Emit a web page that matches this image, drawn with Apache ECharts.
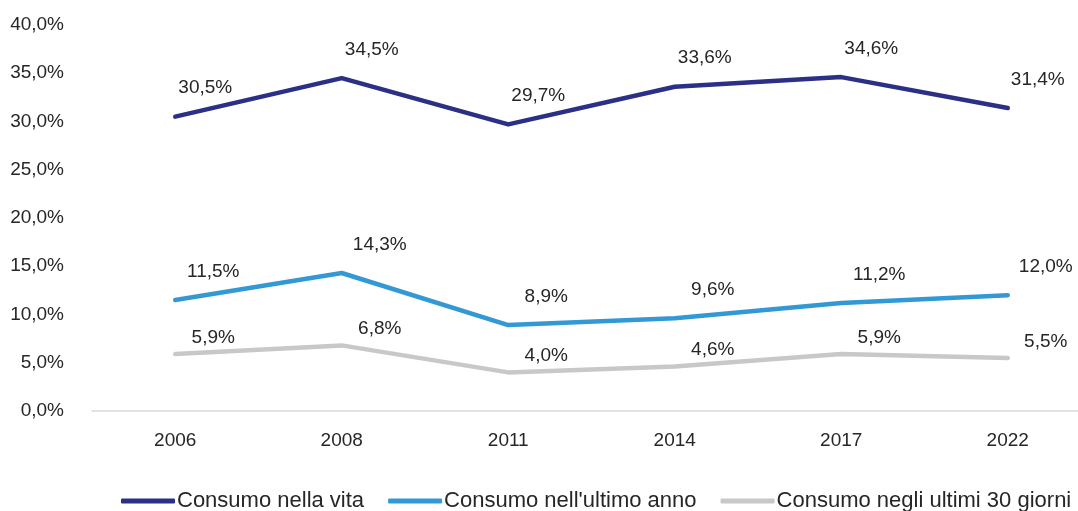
<!DOCTYPE html>
<html>
<head>
<meta charset="utf-8">
<script src="https://cdn.jsdelivr.net/npm/echarts@6/dist/echarts.min.js"></script>
<style>
html, body { margin: 0; padding: 0; background: #fff; }
#chart { width: 1078px; height: 511px; }
</style>
</head>
<body>
<div id="chart"></div>
<script>
var years = ['2006', '2008', '2011', '2014', '2017', '2022'];
var vita = [30.5, 34.5, 29.7, 33.6, 34.6, 31.4];
var ultimoAnno = [11.5, 14.3, 8.9, 9.6, 11.2, 12.0];
var ultimi30 = [5.9, 6.8, 4.0, 4.6, 5.9, 5.5];
var seriesNames = ['Consumo nella vita', "Consumo nell'ultimo anno", 'Consumo negli ultimi 30 giorni'];

var myChart = echarts.init(document.getElementById('chart'));
var fontFamily = '"Liberation Sans", Arial, sans-serif';

var pct = function (v) {
    return v.toFixed(1).replace('.', ',') + '%';
};

var makeSeries = function (name, data, color, offset) {
    return {
        name: name,
        type: 'line',
        data: data,
        symbol: 'circle',
        symbolSize: 0,
        showSymbol: true,
        lineStyle: { color: color, width: 4.5, cap: 'round', join: 'round' },
        itemStyle: { color: color },
        label: {
            show: true,
            position: 'top',
            offset: offset,
            color: '#262626',
            fontSize: 19,
            fontFamily: fontFamily,
            formatter: function (p) { return pct(p.value); }
        },
        emphasis: { disabled: true }
    };
};

option = {
    backgroundColor: '#fff',
    animation: false,
    grid: {
        left: 92,
        top: 25,
        width: 999,
        bottom: 100,
        outerBoundsMode: 'none'
    },
    legend: {
        left: 116,
        top: 485,
        icon: 'roundRect',
        itemWidth: 54,
        itemHeight: 5,
        itemGap: 24,
        textStyle: {
            color: '#262626',
            fontSize: 22,
            fontFamily: fontFamily,
            padding: [0, 0, 0, -3]
        },
        data: seriesNames
    },
    xAxis: {
        type: 'category',
        data: years,
        boundaryGap: true,
        axisLine: { lineStyle: { color: '#d9d9d9', width: 1.5 } },
        axisTick: { show: false },
        axisLabel: {
            color: '#262626',
            fontSize: 19,
            fontFamily: fontFamily,
            margin: 20
        }
    },
    yAxis: {
        type: 'value',
        min: 0,
        max: 40,
        interval: 5,
        splitLine: { show: false },
        axisLine: { show: false },
        axisTick: { show: false },
        axisLabel: {
            color: '#262626',
            fontSize: 19,
            fontFamily: fontFamily,
            margin: 28,
            formatter: function (v) { return pct(v); }
        }
    },
    series: [
        makeSeries(seriesNames[0], vita, '#2b2f85', [30, -14]),
        makeSeries(seriesNames[1], ultimoAnno, '#3399d4', [38, -14]),
        makeSeries(seriesNames[2], ultimi30, '#c8c8c8', [38, -2])
    ]
};
myChart.setOption(option);
</script>
</body>
</html>
